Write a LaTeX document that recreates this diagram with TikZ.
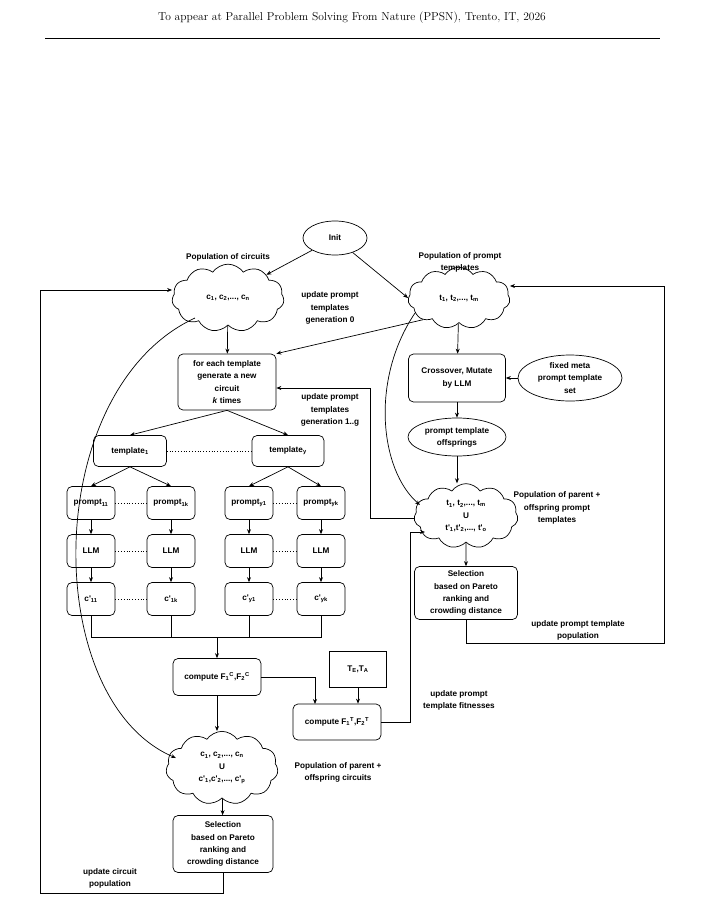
\documentclass[tikz,border=0pt]{standalone}
\usepackage{fontspec}
\newfontfamily\lsans{Liberation Sans}
\usetikzlibrary{shapes.symbols,shapes.geometric,arrows.meta}
\newcommand{\sbs}[1]{\textsubscript{#1}}
\newcommand{\sps}[1]{\textsuperscript{#1}}
\begin{document}
\begin{tikzpicture}[x=1pt,y=-1pt,
  every node/.style={font=\lsans\bfseries\fontsize{8.2}{12.2}\selectfont,align=center,inner sep=1pt},
  rbox/.style={draw,rounded corners=5pt,line width=0.7pt},
  ell/.style={draw,ellipse,line width=0.7pt,inner sep=0pt},
  cld/.style={draw,cloud,cloud puffs=11,cloud puff arc=110,line width=0.7pt,inner sep=0pt},
  arr/.style={-{Stealth[length=5pt,width=4pt]},line width=0.7pt},
  ln/.style={line width=0.7pt},
  dot/.style={dotted,line width=0.8pt}]
\useasboundingbox (0,0) rectangle (705,900);
\node[font=\rmfamily\fontsize{11.5}{13}\selectfont] (hdr) at (352,18) {To appear at Parallel Problem Solving From Nature (PPSN), Trento, IT, 2026};
\draw[line width=0.4pt] (45,38) -- (660,38);

\node[ell,minimum width=64,minimum height=34] (init) at (335,238) {Init};
\node (lc) at (228,257) {Population of circuits};
\node[cld,minimum width=112,minimum height=56] (cc) at (228,298) {c\sbs{1}, c\sbs{2},..., c\sbs{n}};
\node (lt) at (460,262) {Population of prompt\\templates};
\node[cld,minimum width=102,minimum height=56] (ct) at (459,298) {t\sbs{1}, t\sbs{2},..., t\sbs{m}};
\node (u0) at (330,308) {update prompt\\templates\\generation 0};
\node[rbox,minimum width=98,minimum height=56] (fe) at (227,382) {for each template\\generate a new\\circuit\\\textit{k} times};
\node (ug) at (330,410) {update prompt\\templates\\generation 1..g};
\node[rbox,minimum width=97,minimum height=48] (cm) at (457,378) {Crossover, Mutate\\by LLM};
\node[ell,minimum width=104,minimum height=46] (fm) at (570,378) {fixed meta\\prompt template\\set};
\node[ell,minimum width=98,minimum height=38] (po) at (457,437) {prompt template\\offsprings};
\node[cld,minimum width=104,minimum height=62] (pcl) at (466,516) {t\sbs{1}, t\sbs{2},..., t\sbs{m}\\U\\t'\sbs{1},t'\sbs{2},..., t'\sbs{o}};
\node (lpc) at (557,508) {Population of parent +\\offspring prompt\\templates};
\node[rbox,minimum width=103,minimum height=53] (sr) at (466,593) {Selection\\based on Pareto\\ranking and\\crowding distance};
\node (upp) at (578,630) {update prompt template\\population};

\node[rbox,minimum width=73,minimum height=31] (t1) at (130,451) {template\sbs{1}};
\node[rbox,minimum width=72,minimum height=31] (ty) at (288,451) {template\sbs{y}};
\foreach \n/\x/\t in {a/91/prompt\sbs{11},b/171/prompt\sbs{1k},c/249/prompt\sbs{y1},d/321/prompt\sbs{yk}}{
  \node[rbox,minimum width=48,minimum height=33,inner sep=0pt] (p\n) at (\x,503) {\t};
  \node[rbox,minimum width=48,minimum height=33] (l\n) at (\x,551) {LLM};
}
\node[rbox,minimum width=48,minimum height=33] (ca) at (91,599) {c'\sbs{11}};
\node[rbox,minimum width=48,minimum height=33] (cb) at (171,599) {c'\sbs{1k}};
\node[rbox,minimum width=48,minimum height=33] (cx) at (249,599) {c'\sbs{y1}};
\node[rbox,minimum width=48,minimum height=33] (cd) at (321,599) {c'\sbs{yk}};
\coordinate (j) at (217,637);
\node[rbox,minimum width=88,minimum height=37] (fc) at (217,677) {compute F\sbs{1}\sps{C},F\sbs{2}\sps{C}};
\node[draw,line width=0.7pt,minimum width=57,minimum height=36] (te) at (358,669) {T\sbs{E},T\sbs{A}};
\node[rbox,minimum width=88,minimum height=36] (ft) at (337,722) {compute F\sbs{1}\sps{T},F\sbs{2}\sps{T}};
\node (uf) at (459,700) {update prompt\\template fitnesses};
\node[cld,minimum width=112,minimum height=60] (bc) at (222,768) {c\sbs{1}, c\sbs{2},..., c\sbs{n}\\U\\c'\sbs{1},c'\sbs{2},..., c'\sbs{p}};
\node (lbc) at (338,772) {Population of parent +\\offspring circuits};
\node[rbox,minimum width=100,minimum height=57] (sl) at (223,844) {Selection\\based on Pareto\\ranking and\\crowding distance};
\node (ucp) at (110,878) {update circuit\\population};

\draw[arr] (init) -- (cc.north east);
\draw[arr] (init) -- (ct.west);
\draw[arr] (cc) -- (fe);
\draw[arr] (ct.south west) -- (fe.north east);
\draw[arr] (ct) -- (cm);
\draw[arr] (fm) -- (cm);
\draw[arr] (cm) -- (po);
\draw[arr] (po) -- (po |- pcl.north);
\draw[arr] (pcl) -- (sr);
\draw[arr] (fe.south) -- (t1.north);
\draw[arr] (fe.south) -- (ty.north);
\draw[arr] (t1.south) -- (pa.north);
\draw[arr] (t1.south) -- (pb.north);
\draw[arr] (ty.south) -- (pc.north);
\draw[arr] (ty.south) -- (pd.north);
\foreach \n in {a,b,c,d}{\draw[arr] (p\n) -- (l\n);}
\draw[arr] (la) -- (ca); \draw[arr] (lb) -- (cb); \draw[arr] (lc) -- (cx); \draw[arr] (ld) -- (cd);
\draw[dot] (t1) -- (ty); \draw[dot] (pa) -- (pb); \draw[dot] (pc) -- (pd);
\draw[dot] (la) -- (lb); \draw[dot] (lc) -- (ld);
\draw[dot] (ca) -- (cb); \draw[dot] (cx) -- (cd);
\draw[ln] (ca.south) |- (j); \draw[ln] (cb.south) |- (j); \draw[ln] (cx.south) |- (j); \draw[ln] (cd.south) |- (j);
\draw[arr] (j) -- (fc);
\draw[arr] (fc.east) -| (315,704);
\draw[arr] (te) -- (te |- ft.north);
\draw[arr] (fc) -- (fc |- bc.north);
\draw[arr] (bc) -- (sl);
\draw[arr] (sl.south) -- (223,893) -- (40,893) -- (40,290) -- (cc.west |- 0,290);
\draw[arr] (sr.south) -- (466,643) -- (664,643) -- (664,286) -- (ct.east |- 0,286);
\draw[arr] (pcl.west |- 0,518) -- (370,518) -- (370,388) -- (fe.east |- 0,388);
\draw[arr] (ft.east) -- (410,722) -- (410,532) -- (425,532);
\draw[arr] (195,318) .. controls (40,390) and (40,700) .. (176,758);
\draw[arr] (415,313) .. controls (370,380) and (380,470) .. (420,505);
\end{tikzpicture}
\end{document}
